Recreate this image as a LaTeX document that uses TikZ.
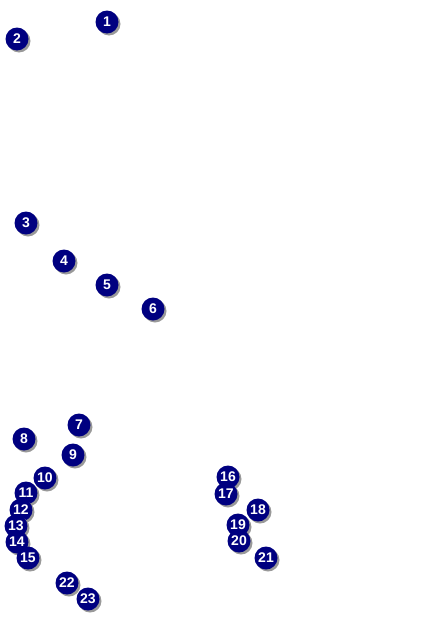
\documentclass[tikz,border=0pt]{standalone}
\usepackage{fontspec}
\setmainfont{Liberation Sans}
\definecolor{navy}{RGB}{0,0,128}
\begin{document}
\begin{tikzpicture}[x=1pt,y=-1pt,
  badge/.style={circle,fill=navy,minimum size=23pt,inner sep=0pt,text=white,font=\bfseries\fontsize{14}{14}\selectfont,
    preaction={fill=black!40,transform canvas={xshift=2pt,yshift=-2pt}}}]
\useasboundingbox (0,0) rectangle (442,624);
\foreach \n/\x/\y in {1/107/22,2/17/39,3/26/223,4/64/261,5/107/285,6/153/309,7/79/425,8/24/439,9/73/455,10/45/478,11/26/493,12/21/510,13/16/526,14/17/542,15/28/558,16/228/477,17/226/494,18/258/510,19/238/525,20/239/541,21/266/558,22/67/583,23/88/599}
  \node[badge] (n\n) at (\x,\y) {\n};
\end{tikzpicture}
\end{document}
